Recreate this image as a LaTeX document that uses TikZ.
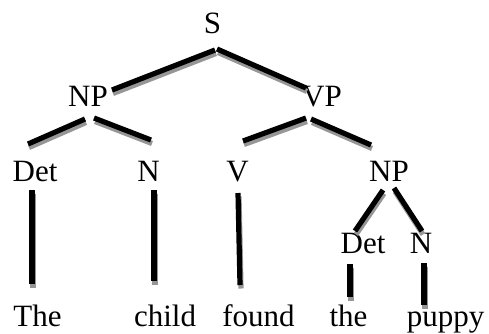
\documentclass[tikz,border=0pt]{standalone}
\usepackage{fontspec}
\setmainfont{Liberation Serif}
\usetikzlibrary{calc}
\definecolor{shadowgray}{RGB}{150,150,150}
\begin{document}
\begin{tikzpicture}[x=1pt,y=-1pt,
  lab/.style={anchor=base,inner sep=0pt,font=\fontsize{31}{36}\selectfont},
  branch/.style={line width=5.2pt,line cap=butt,draw=black},
  branchshadow/.style={line width=5.2pt,line cap=butt,draw=shadowgray}]
\useasboundingbox (0,0) rectangle (489,333);
% labels
\node[lab] (S) at (212.5,33) {S};
\node[lab] (NPa) at (88,106) {NP};
\node[lab] (VP) at (322,106) {VP};
\node[lab] (Deta) at (35,181) {Det};
\node[lab] (Na) at (148.5,181) {N};
\node[lab] (V) at (237.5,181) {V};
\node[lab] (NPb) at (389,181) {NP};
\node[lab] (Detb) at (363,253) {Det};
\node[lab] (Nb) at (421,253) {N};
\node[lab] (w1) at (37.5,326) {The};
\node[lab] (w2) at (165,326) {child};
\node[lab] (w3) at (258.5,326) {found};
\node[lab] (w4) at (348.5,326) {the};
\node[lab] (w5) at (445.5,326) {puppy};
% connector ends
\coordinate (S-l) at (215,50);  \coordinate (NPa-t) at (112,90);
\coordinate (S-r) at (217,49);  \coordinate (VP-t) at (306,88);
\coordinate (NPa-l) at (85,119); \coordinate (Deta-t) at (28,144);
\coordinate (NPa-r) at (94,118); \coordinate (Na-t) at (151,140);
\coordinate (VP-l) at (306,118); \coordinate (V-t) at (243,141);
\coordinate (VP-r) at (311,119); \coordinate (NPb-t) at (371,145);
\coordinate (Deta-b) at (32,190); \coordinate (w1-t) at (32,284);
\coordinate (Na-b) at (154,190); \coordinate (w2-t) at (154,281);
\coordinate (V-b) at (238,193); \coordinate (w3-t) at (240,285);
\coordinate (NPb-l) at (383,190); \coordinate (Detb-t) at (355,231);
\coordinate (NPb-r) at (394,188); \coordinate (Nb-t) at (422,231);
\coordinate (Detb-b) at (350,264); \coordinate (w4-t) at (350,297);
\coordinate (Nb-b) at (424,263); \coordinate (w5-t) at (424,305);
% connectors: shadow first, then black line
\foreach \a/\b in {S-l/NPa-t, S-r/VP-t, NPa-l/Deta-t, NPa-r/Na-t,
  VP-l/V-t, VP-r/NPb-t, Deta-b/w1-t, Na-b/w2-t, V-b/w3-t,
  NPb-l/Detb-t, NPb-r/Nb-t, Detb-b/w4-t, Nb-b/w5-t}{
  \draw[branchshadow] ($(\a)+(1,3.5)$) -- ($(\b)+(1,3.5)$);
}
\foreach \a/\b in {S-l/NPa-t, S-r/VP-t, NPa-l/Deta-t, NPa-r/Na-t,
  VP-l/V-t, VP-r/NPb-t, Deta-b/w1-t, Na-b/w2-t, V-b/w3-t,
  NPb-l/Detb-t, NPb-r/Nb-t, Detb-b/w4-t, Nb-b/w5-t}{
  \draw[branch] (\a) -- (\b);
}
\end{tikzpicture}
\end{document}
